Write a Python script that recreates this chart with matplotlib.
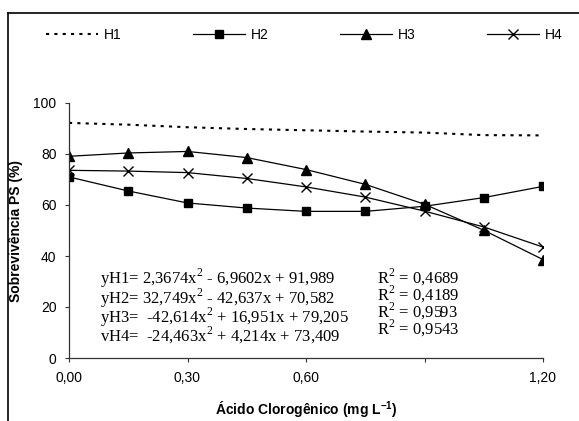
import matplotlib
matplotlib.use("Agg")
import matplotlib.pyplot as plt
from matplotlib.lines import Line2D

# doses de ácido clorogênico (mg/L)
dose = [0.0, 0.15, 0.30, 0.45, 0.60, 0.75, 0.90, 1.05, 1.20]

h1 = [92.2, 91.5, 90.5, 89.8, 89.3, 88.8, 88.4, 87.4, 87.3]
h2 = [71.0, 65.5, 60.8, 58.8, 57.5, 57.5, 59.5, 62.9, 67.3]
h3 = [79.1, 80.4, 81.0, 78.6, 73.9, 68.1, 60.3, 50.1, 38.6]
h4 = [73.6, 73.3, 72.7, 70.4, 67.1, 63.1, 57.6, 51.4, 43.5]

xticks = [0.0, 0.30, 0.60, 0.90, 1.20]
xticklabels = ["0,00", "0,30", "0,60", "", "1,20"]
yticks = [0, 20, 40, 60, 80, 100]

equacoes = [
    r"yH1= 2,3674x$^2$ - 6,9602x + 91,989",
    r"yH2= 32,749x$^2$ - 42,637x + 70,582",
    r"yH3=  -42,614x$^2$ + 16,951x + 79,205",
    r"vH4=  -24,463x$^2$ + 4,214x + 73,409",
]
r2 = [r"R$^2$ = 0,4689", r"R$^2$ = 0,4189", r"R$^2$ = 0,9593", r"R$^2$ = 0,9543"]

plt.rcParams["font.family"] = "Liberation Sans"
plt.rcParams["mathtext.fontset"] = "custom"
plt.rcParams["mathtext.rm"] = "Liberation Serif"

W, H = 579, 421
fig = plt.figure(figsize=(W / 100, H / 100), dpi=100)
ax = fig.add_axes([69 / W, 1 - 358 / H, (543 - 69) / W, (358 - 103) / H])

lw = 0.9
ax.plot(dose, h1, color="black", lw=1.5, dashes=(1.5, 2.5))
ax.plot(dose, h2, color="black", lw=lw, marker="s", ms=5.5)
ax.plot(dose, h3, color="black", lw=lw, marker="^", ms=6.5)
ax.plot(dose, h4, color="black", lw=lw, marker="x", ms=6.5, mew=1.0)

ax.set_xlim(0, 1.2)
ax.set_ylim(0, 100)
ax.set_xticks(xticks)
ax.set_xticklabels(xticklabels)
ax.set_yticks(yticks)
ax.tick_params(direction="out", length=3, width=0.8, labelsize=10, colors="#333333", pad=6)
ax.tick_params(labelcolor="black")
for s in ["top", "right"]:
    ax.spines[s].set_visible(False)
for s in ["left", "bottom"]:
    ax.spines[s].set_color("#333333")
    ax.spines[s].set_linewidth(0.9)
ax.patch.set_visible(False)

ax.set_xlabel(r"Ácido Clorogênico (mg L$^{\mathregular{-1}}$)", fontsize=10, fontweight="bold")
ax.xaxis.set_label_coords(0.5, -(400 - 358) / (358 - 103))
ax.set_ylabel("Sobrevivência PS (%)", fontsize=10, fontweight="bold")
ax.yaxis.set_label_coords(-(69 - 23) / (543 - 69), 0.5)

# equações em dois blocos de texto
fig.text(100 / W, 1 - 267 / H, "\n".join(equacoes), family="Liberation Serif",
         fontsize=12, va="top", linespacing=0.76)
fig.text(377 / W, 1 - 267 / H, "\n".join(r2), family="Liberation Serif",
         fontsize=12, va="top", linespacing=0.76)

# moldura externa (cortada à direita e embaixo)
fig.add_artist(Line2D([8 / W, 8 / W], [0, 1 - 13 / H], color="black", lw=1.2))
fig.add_artist(Line2D([8 / W, 1], [1 - 13 / H, 1 - 13 / H], color="black", lw=1.2))

handles = [
    Line2D([], [], color="black", lw=1.5, dashes=(1.5, 2.5)),
    Line2D([], [], color="black", lw=lw, marker="s", ms=5.5),
    Line2D([], [], color="black", lw=lw, marker="^", ms=6.5),
    Line2D([], [], color="black", lw=lw, marker="x", ms=6.5, mew=1.0),
]
fig.legend(handles, ["H1", "H2", "H3", "H4"], ncol=4, loc="center left",
           bbox_to_anchor=(46 / W, 1 - 35 / H), frameon=False, fontsize=10,
           handlelength=3.75, handletextpad=0.45, columnspacing=5.1,
           borderpad=0, borderaxespad=0)

fig.savefig("out.png", dpi=100)
